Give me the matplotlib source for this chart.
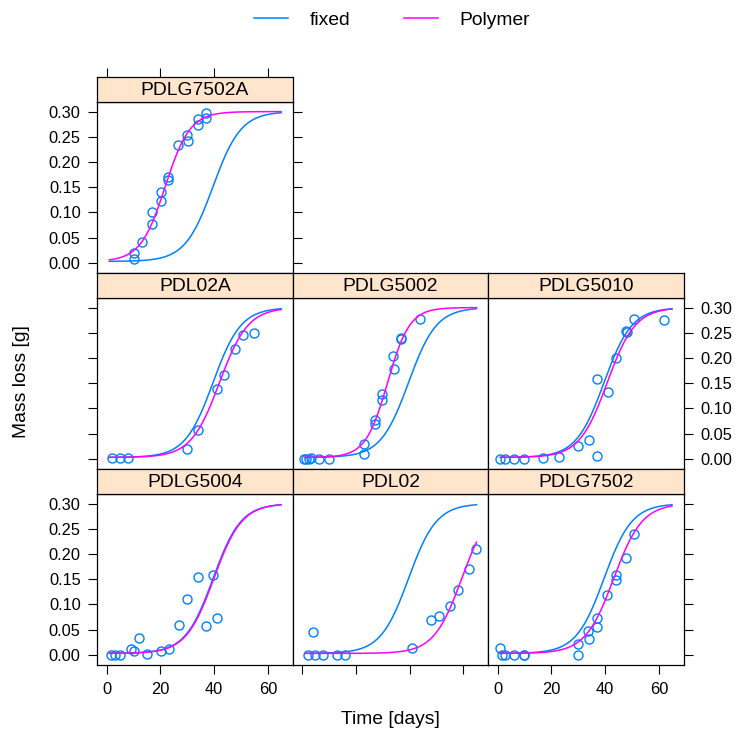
import numpy as np
import matplotlib
matplotlib.use("Agg")
import matplotlib.pyplot as plt
from matplotlib.lines import Line2D

plt.rcParams['font.family'] = ['Liberation Sans', 'DejaVu Sans']

# ---- observed mass loss per polymer -------------------------------------
panels = ["PDLG7502A", "PDL02A", "PDLG5002", "PDLG5010",
          "PDLG5004", "PDL02", "PDLG7502"]

t_PDLG7502A = [10.2, 10.2, 13.0, 17.0, 17.0, 20.1, 20.1, 23.0, 23.0, 26.7,
               30.2, 29.8, 33.9, 33.9, 37.0, 37.0]
y_PDLG7502A = [0.020, 0.007, 0.041, 0.077, 0.101, 0.122, 0.141, 0.164, 0.170,
               0.233, 0.242, 0.254, 0.274, 0.285, 0.288, 0.297]

t_PDL02A = [2.1, 5.0, 7.8, 30.0, 33.9, 41.0, 43.8, 47.9, 50.9, 54.9]
y_PDL02A = [0.001, 0.001, 0.001, 0.020, 0.057, 0.139, 0.167, 0.217, 0.245, 0.250]

t_PDLG5002 = [0.8, 1.6, 2.5, 3.3, 6.1, 10.1, 23.1, 23.1, 27.0, 27.0, 29.9,
              29.9, 34.0, 33.8, 36.9, 36.9, 43.7]
y_PDLG5002 = [0.000, 0.000, 0.000, 0.001, 0.000, 0.000, 0.009, 0.029, 0.070,
              0.078, 0.116, 0.129, 0.178, 0.205, 0.238, 0.240, 0.278]

t_PDLG5010 = [0.8, 2.9, 6.0, 9.9, 16.9, 23.0, 30.0, 34.0, 37.0, 37.0, 41.0,
              43.9, 47.7, 48.0, 50.7, 61.9]
y_PDLG5010 = [0.000, 0.000, 0.000, 0.000, 0.001, 0.003, 0.025, 0.037, 0.159,
              0.006, 0.132, 0.200, 0.254, 0.251, 0.278, 0.276]

t_PDLG5004 = [1.6, 3.1, 5.0, 8.9, 10.2, 12.0, 14.9, 20.1, 23.1, 27.1, 29.9,
              34.0, 36.9, 39.7, 41.0]
y_PDLG5004 = [0.000, 0.000, 0.000, 0.012, 0.007, 0.033, 0.002, 0.007, 0.012,
              0.060, 0.111, 0.154, 0.057, 0.159, 0.074]

t_PDL02 = [2.0, 4.8, 7.9, 12.9, 16.0, 4.0, 41.0, 47.8, 50.9, 54.9, 57.9,
           62.0, 64.9]
y_PDL02 = [0.000, 0.000, 0.000, 0.000, 0.000, 0.046, 0.013, 0.069, 0.078,
           0.096, 0.129, 0.171, 0.209]

t_PDLG7502 = [1.0, 1.6, 2.9, 6.0, 9.7, 9.9, 29.8, 29.8, 33.9, 33.7, 36.8,
              36.8, 40.8, 43.9, 43.9, 47.9, 50.7]
y_PDLG7502 = [0.013, 0.000, 0.000, 0.000, 0.000, 0.000, 0.000, 0.021, 0.032,
              0.048, 0.056, 0.073, 0.119, 0.149, 0.159, 0.192, 0.240]

times = [t_PDLG7502A, t_PDL02A, t_PDLG5002, t_PDLG5010,
         t_PDLG5004, t_PDL02, t_PDLG7502]
losses = [y_PDLG7502A, y_PDL02A, y_PDLG5002, y_PDLG5010,
          y_PDLG5004, y_PDL02, y_PDLG7502]

# ---- fitted logistic curves (lower, upper asymptote, midpoint, scale) ----
lower_asym = 0.003
upper_asym = 0.300
fixed_mid = 39.6
fixed_scale = 5.2
polymer_mid = [21.8, 42.0, 31.8, 40.8, 39.9, 59.4, 43.2]
polymer_scale = [4.6, 5.3, 4.1, 5.2, 5.2, 5.2, 5.3]
t_start, t_end = 1.0, 64.9

# grid position (row, col) of each panel
grid_pos = [(0, 0), (1, 0), (1, 1), (1, 2), (2, 0), (2, 1), (2, 2)]

x_ticks = [0, 20, 40, 60]
y_ticks = [0.00, 0.05, 0.10, 0.15, 0.20, 0.25, 0.30]
xlim = (-3.5, 69.3)
ylim = (-0.020, 0.320)

fixed_col = "#0080ff"
poly_col = "#ff00ff"
strip_col = "#ffe5cc"

W, H = 735, 732
fig = plt.figure(figsize=(W / 100, H / 100), dpi=100)


def rect(left, top, w, h):
    return [left / W, 1 - (top + h) / H, w / W, h / H]


col_left = [97.3, 292.8, 488.3]
col_w = 195.5
row_top = [77.0, 273.0, 469.0]
strip_h = 24.5
panel_h = 171.5


def logistic(t, mid, scale):
    return lower_asym + (upper_asym - lower_asym) / (1 + np.exp((mid - t) / scale))


tt = np.linspace(t_start, t_end, 300)
tick_kw = dict(direction="out", length=6.5, width=0.8, pad=5.5,
               labelsize=11.8, colors="black")

for i, name in enumerate(panels):
    r, c = grid_pos[i]
    ax = fig.add_axes(rect(col_left[c], row_top[r] + strip_h, col_w, panel_h))
    ax.set_xlim(*xlim)
    ax.set_ylim(*ylim)
    ax.plot(times[i], losses[i], linestyle="none", marker="o", ms=6.5,
            mfc="none", mec=fixed_col, mew=1.0, zorder=2)
    ax.plot(tt, logistic(tt, fixed_mid, fixed_scale), color=fixed_col,
            lw=1.1, zorder=3)
    ax.plot(tt, logistic(tt, polymer_mid[i], polymer_scale[i]),
            color=poly_col, lw=1.1, zorder=4)
    for sp in ax.spines.values():
        sp.set_linewidth(0.9)
        sp.set_color("black")

    ax.set_xticks(x_ticks)
    ax.set_yticks(y_ticks)
    ax.set_xticklabels([str(v) for v in x_ticks])
    ax.set_yticklabels([f"{v:.2f}" for v in y_ticks])
    ax.tick_params(axis="both", **tick_kw)

    # x axis: ticks on bottom row only, labels on outer columns
    bottom_row = (r == 2)
    ax.tick_params(axis="x", bottom=bottom_row, top=False,
                   labelbottom=bottom_row and c != 1, labeltop=False)
    # y axis: ticks on outer edges, labels alternate left/right by row
    left_edge = (c == 0)
    right_edge = (c == 2) or (r == 0)
    ax.tick_params(axis="y", left=left_edge, right=right_edge,
                   labelleft=left_edge and r != 1,
                   labelright=(c == 2 and r == 1))

    # strip above the panel
    sax = fig.add_axes(rect(col_left[c], row_top[r], col_w, strip_h))
    sax.set_facecolor(strip_col)
    sax.set_xlim(*xlim)
    sax.set_yticks([])
    for sp in sax.spines.values():
        sp.set_linewidth(0.9)
        sp.set_color("black")
    if r == 0:
        sax.set_xticks(x_ticks)
        sax.tick_params(axis="x", bottom=False, top=True, labelbottom=False,
                        labeltop=False, direction="out", length=6.5, width=0.8)
    else:
        sax.set_xticks([])
    sax.text(0.5, 0.45, name, transform=sax.transAxes, ha="center",
             va="center", fontsize=13.9)

fig.text(22 / W, 1 - 382 / H, "Mass loss [g]", rotation=90, ha="center",
         va="center", fontsize=13.9)
fig.text(390 / W, 1 - 720 / H, "Time [days]", ha="center", va="center",
         fontsize=13.9)

handles = [Line2D([], [], color=fixed_col, lw=1.1),
           Line2D([], [], color=poly_col, lw=1.1)]
fig.legend(handles, ["fixed", "Polymer"], loc="center", ncol=2,
           bbox_to_anchor=(392 / W, 1 - 20 / H), frameon=False,
           fontsize=13.9, handlelength=1.75, handletextpad=1.1,
           columnspacing=2.8)

fig.savefig("out.png", dpi=100, facecolor="white")
